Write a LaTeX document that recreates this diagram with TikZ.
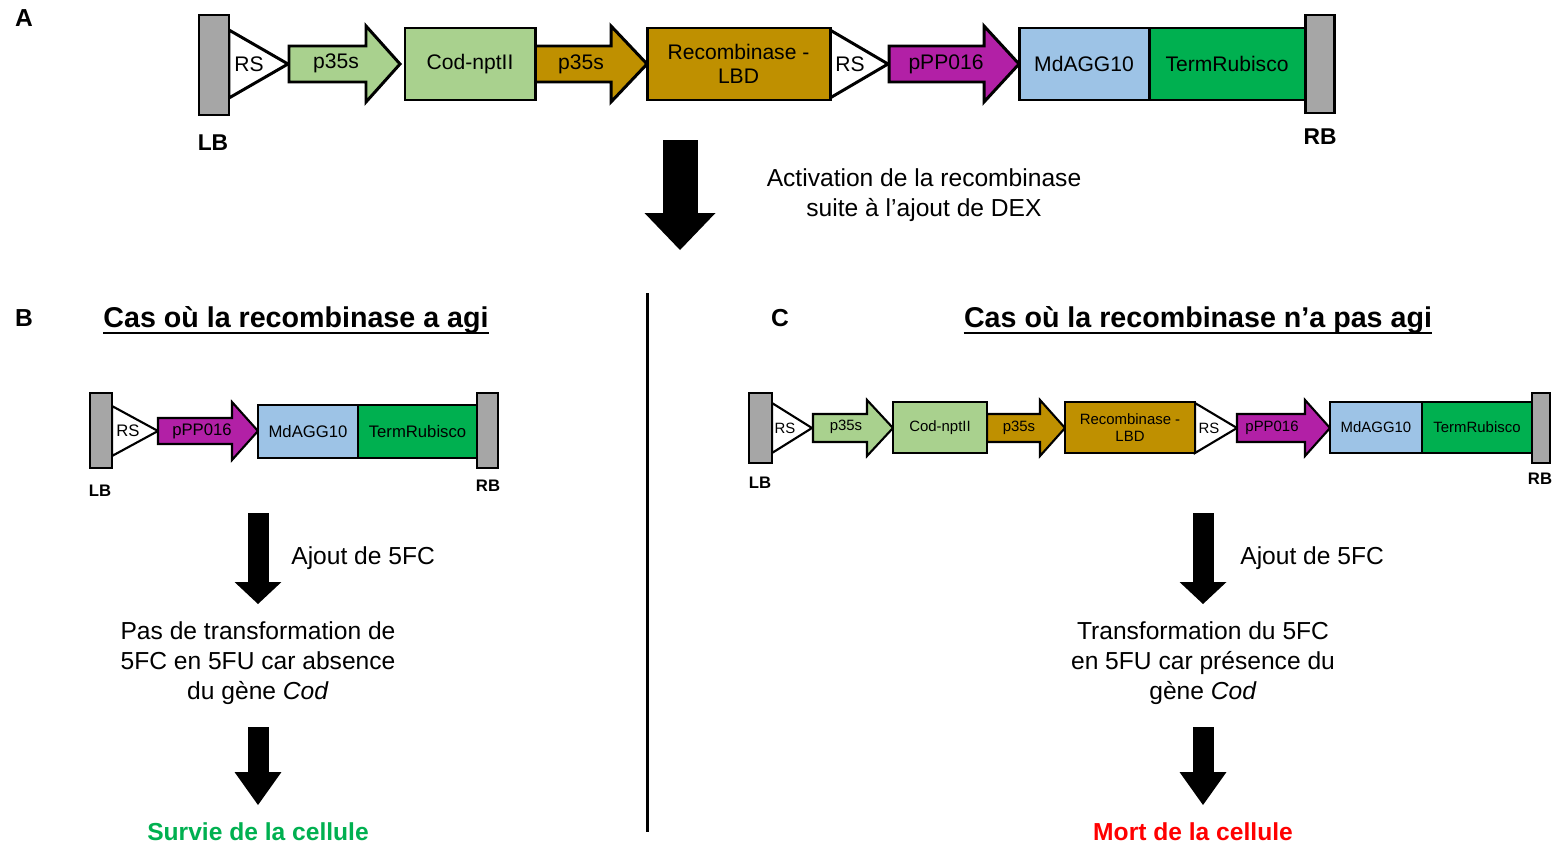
\documentclass[tikz,border=0pt]{standalone}
\usepackage{fontspec}
\setmainfont{Liberation Sans}
\usetikzlibrary{arrows.meta,positioning}

\newlength\pxu
\setlength\pxu{0.02cm}

\definecolor{barGray}{HTML}{A6A6A6}
\definecolor{codGreen}{HTML}{A9D18E}
\definecolor{recBrown}{HTML}{BF9000}
\definecolor{ppMagenta}{HTML}{B220A6}
\definecolor{aggBlue}{HTML}{9DC3E6}
\definecolor{termGreen}{HTML}{00B050}
\definecolor{survGreen}{HTML}{00B050}
\definecolor{deathRed}{HTML}{FF0000}

\begin{document}
\begin{tikzpicture}[x=\pxu, y=-\pxu,
  part/.style={draw, line width=1.7pt, inner sep=0pt, align=center, font=\fontsize{12}{13.5}\selectfont},
  partB/.style={draw, line width=1.2pt, inner sep=0pt, align=center, font=\fontsize{9.5}{11}\selectfont},
  partC/.style={draw, line width=1.2pt, inner sep=0pt, align=center, font=\fontsize{8.5}{10}\selectfont},
  txtA/.style={inner sep=0pt, font=\fontsize{12}{13.5}\selectfont},
  txtB/.style={inner sep=0pt, font=\fontsize{9.5}{11}\selectfont},
  txtC/.style={inner sep=0pt, font=\fontsize{8.5}{10}\selectfont},
  tagA/.style={inner sep=0pt, font=\bfseries\fontsize{13}{15}\selectfont},
  tagB/.style={inner sep=0pt, font=\bfseries\fontsize{9.5}{11}\selectfont},
  panel/.style={inner sep=0pt, font=\bfseries\fontsize{14}{16}\selectfont},
  title/.style={inner sep=0pt, anchor=base, font=\bfseries\fontsize{16.3}{19}\selectfont},
  uline/.style={line width=1.6pt},
  note/.style={inner sep=0pt, align=center, font=\fontsize{14}{17}\selectfont},
  result/.style={inner sep=0pt, font=\bfseries\fontsize{14}{17}\selectfont},
  bigarr/.style={line width=0.7cm, -{Triangle[length=0.74cm, width=1.42cm, line width=0pt]}},
  smallarr/.style={line width=0.42cm, -{Triangle[length=0.44cm, width=0.94cm, line width=0pt]}},
  longarr/.style={line width=0.42cm, -{Triangle[length=0.66cm, width=0.94cm, line width=0pt]}}
]
\useasboundingbox (0,0) rectangle (1554,845);

% A: full construct
\node[panel] (pA) at (24,18) {A};
\draw[part, fill=white] (229,30) -- (288,64) -- (229,98) -- cycle;
\draw[part, fill=codGreen] (289,46) -- (366,46) -- (366,26) -- (400,64) -- (366,102) -- (366,82) -- (289,82) -- cycle;
\draw[part, fill=recBrown] (535,46) -- (611,46) -- (611,26) -- (647,64) -- (611,102) -- (611,82) -- (535,82) -- cycle;
\draw[part, fill=white] (830,30) -- (888,64) -- (830,98) -- cycle;
\draw[part, fill=ppMagenta] (889,46) -- (984,46) -- (984,26) -- (1019,64) -- (984,102) -- (984,82) -- (889,82) -- cycle;
\node[part, fill=barGray, minimum width=30\pxu, minimum height=100\pxu] (lbA) at (214,65) {};
\node[part, fill=codGreen, minimum width=130\pxu, minimum height=72\pxu] (codA) at (470,64) {Cod-nptII};
\node[part, fill=recBrown, minimum width=183\pxu, minimum height=72\pxu] (recA) at (738.5,64) {Recombinase -\\LBD};
\node[part, fill=aggBlue, minimum width=130\pxu, minimum height=72\pxu] (aggA) at (1084,64) {MdAGG10};
\node[part, fill=termGreen, minimum width=156\pxu, minimum height=72\pxu] (termA) at (1227,64) {TermRubisco};
\node[part, fill=barGray, minimum width=29\pxu, minimum height=98\pxu] (rbA) at (1320,64) {};
\node[txtA] (rs1A) at (249,64) {RS};
\node[txtA] (p35A) at (336,63) {p35s};
\node[txtA] (p35bA) at (581,64) {p35s};
\node[txtA] (rs2A) at (850,64) {RS};
\node[txtA] (ppA) at (946,64) {pPP016};
\node[tagA] (lbtA) at (213,143) {LB};
\node[tagA] (rbtA) at (1320,137) {RB};

\coordinate (actTop) at (680,140);
\coordinate (actTip) at (680,250);
\draw[bigarr] (actTop) -- (actTip);
\node[note] (actTxt) at (924,195) {Activation de la recombinase\\suite à l’ajout de DEX};

\draw[line width=1.7pt] (647,293) -- (647,832);

% B: recombinase has acted
\node[panel] (pB) at (24,318) {B};
\node[title] (titB) at (296,327) {Cas où la recombinase a agi};
\draw[uline] ([yshift=-6\pxu]titB.base west) -- ([yshift=-6\pxu]titB.base east);
\draw[partB, fill=white] (112,406) -- (158,431) -- (112,456) -- cycle;
\draw[partB, fill=ppMagenta] (158,418) -- (232,418) -- (232,402) -- (258,431) -- (232,460) -- (232,444) -- (158,444) -- cycle;
\node[partB, fill=barGray, minimum width=22\pxu, minimum height=75\pxu] (lbB) at (101,430.5) {};
\node[partB, fill=aggBlue, minimum width=100\pxu, minimum height=53\pxu] (aggB) at (308,431.5) {MdAGG10};
\node[partB, fill=termGreen, minimum width=119\pxu, minimum height=53\pxu] (termB) at (417.5,431.5) {TermRubisco};
\node[partB, fill=barGray, minimum width=21\pxu, minimum height=75\pxu] (rbB) at (487.5,430.5) {};
\node[txtB] (rsB) at (128,431) {RS};
\node[txtB] (ppB) at (202,431) {pPP016};
\node[tagB] (lbtB) at (100,491) {LB};
\node[tagB] (rbtB) at (488,486) {RB};

\coordinate (b1Top) at (258,513);
\coordinate (b1Tip) at (258,604);
\draw[smallarr] (b1Top) -- (b1Tip);
\node[note, anchor=west] (ajoutB) at (291,558) {Ajout de 5FC};
\node[note] (resB) at (258,663) {Pas de transformation de\\5FC en 5FU car absence\\du gène \textit{Cod}};
\coordinate (b2Top) at (258,727);
\coordinate (b2Tip) at (258,805);
\draw[longarr] (b2Top) -- (b2Tip);
\node[result, text=survGreen] (survie) at (258,832) {Survie de la cellule};

% C: recombinase has not acted
\node[panel] (pC) at (780,318) {C};
\node[title] (titC) at (1198,327) {Cas où la recombinase n’a pas agi};
\draw[uline] ([yshift=-6\pxu]titC.base west) -- ([yshift=-6\pxu]titC.base east);
\draw[partC, fill=white] (772,403) -- (812,428) -- (772,453) -- cycle;
\draw[partC, fill=codGreen] (813,414) -- (867,414) -- (867,400) -- (893,428) -- (867,456) -- (867,442) -- (813,442) -- cycle;
\draw[partC, fill=recBrown] (987,414) -- (1040,414) -- (1040,400) -- (1065,428) -- (1040,456) -- (1040,442) -- (987,442) -- cycle;
\draw[partC, fill=white] (1195,403) -- (1237,428) -- (1195,453) -- cycle;
\draw[partC, fill=ppMagenta] (1237,414) -- (1305,414) -- (1305,400) -- (1330,428) -- (1305,456) -- (1305,442) -- (1237,442) -- cycle;
\node[partC, fill=barGray, minimum width=23\pxu, minimum height=70\pxu] (lbC) at (760.5,428) {};
\node[partC, fill=codGreen, minimum width=94\pxu, minimum height=51\pxu] (codC) at (940,427.5) {Cod-nptII};
\node[partC, fill=recBrown, minimum width=130\pxu, minimum height=51\pxu] (recC) at (1130,427.5) {Recombinase -\\LBD};
\node[partC, fill=aggBlue, minimum width=92\pxu, minimum height=51\pxu] (aggC) at (1376,427.5) {MdAGG10};
\node[partC, fill=termGreen, minimum width=110\pxu, minimum height=51\pxu] (termC) at (1477,427.5) {TermRubisco};
\node[partC, fill=barGray, minimum width=18\pxu, minimum height=70\pxu] (rbC) at (1541,428) {};
\node[txtC] (rs1C) at (785,428) {RS};
\node[txtC] (p35C) at (846,427) {p35s};
\node[txtC] (p35bC) at (1019,428) {p35s};
\node[txtC] (rs2C) at (1209,428) {RS};
\node[txtC] (ppC) at (1272,428) {pPP016};
\node[tagB] (lbtC) at (760,483) {LB};
\node[tagB] (rbtC) at (1540,479) {RB};

\coordinate (c1Top) at (1203,513);
\coordinate (c1Tip) at (1203,604);
\draw[smallarr] (c1Top) -- (c1Tip);
\node[note, anchor=west] (ajoutC) at (1240,558) {Ajout de 5FC};
\node[note] (resC) at (1203,663) {Transformation du 5FC\\en 5FU car présence du\\gène \textit{Cod}};
\coordinate (c2Top) at (1203,727);
\coordinate (c2Tip) at (1203,805);
\draw[longarr] (c2Top) -- (c2Tip);
\node[result, text=deathRed] (mort) at (1193,832) {Mort de la cellule};

\end{tikzpicture}
\end{document}
